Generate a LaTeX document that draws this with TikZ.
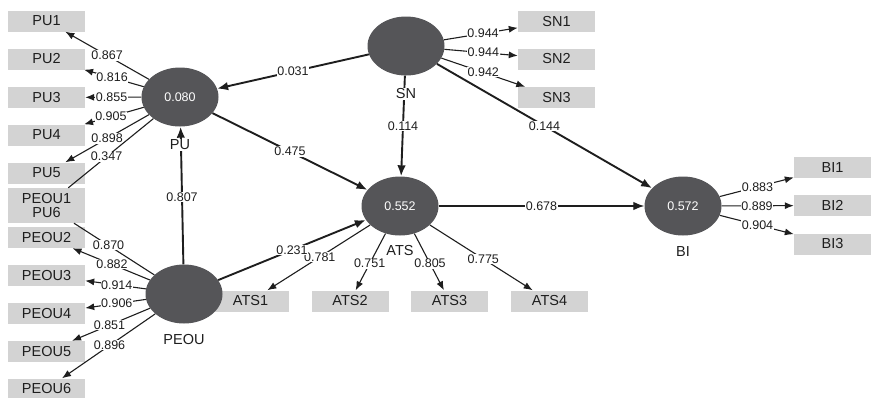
\documentclass[tikz,border=0pt]{standalone}
\usepackage{fontspec}
\setmainfont{Liberation Sans}
\usetikzlibrary{arrows.meta,shapes.geometric}
\definecolor{lv}{RGB}{85,85,88}
\definecolor{mv}{RGB}{211,211,211}
\definecolor{ink}{RGB}{30,30,30}
\tikzset{
 lvar/.style={ellipse, fill=lv, minimum width=77pt, minimum height=59pt, inner sep=0pt, text=white, font=\fontsize{12.5}{14}\selectfont},
 ind/.style={rectangle, fill=mv, minimum width=77pt, minimum height=21pt, inner sep=0pt, font=\fontsize{14.5}{16}\selectfont, text=ink},
 load/.style={draw=ink, line width=1.1pt, -{Latex[length=9pt,width=7pt]}},
 loadline/.style={draw=ink, line width=1.1pt},
 pathc/.style={draw=ink, line width=1.9pt, -{Latex[length=11pt,width=8.5pt]}},
 coef/.style={fill=white, inner sep=0.6pt, font=\fontsize{12.5}{14}\selectfont, text=ink},
 lvname/.style={fill=white, inner sep=1pt, font=\fontsize{14.5}{16}\selectfont, text=ink},
}
\begin{document}
\begin{tikzpicture}[x=1pt,y=-1pt]
\useasboundingbox (0,0) rectangle (873,397);
% indicators
\node[ind] (pu1) at (46.5,21) {PU1};
\node[ind] (pu2) at (46.5,59) {PU2};
\node[ind] (pu3) at (46.5,97.5) {PU3};
\node[ind] (pu4) at (46.5,135) {PU4};
\node[ind] (pu5) at (46.5,173) {PU5};
\node[ind, minimum height=35pt, align=center, font=\fontsize{14.5}{13.5}\selectfont] (pu6) at (46.5,205.5) {PEOU1\\PU6};
\node[ind] (peou2) at (46.5,237.5) {PEOU2};
\node[ind] (peou3) at (46.5,275.5) {PEOU3};
\node[ind] (peou4) at (46.5,313.5) {PEOU4};
\node[ind] (peou5) at (46.5,351.5) {PEOU5};
\node[ind] (peou6) at (46.5,389) {PEOU6};
\node[ind] (sn1) at (556.5,21.5) {SN1};
\node[ind] (sn2) at (556.5,59) {SN2};
\node[ind] (sn3) at (556.5,97.5) {SN3};
\node[ind] (ats1) at (250.5,301) {ATS1};
\node[ind] (ats2) at (350,301) {ATS2};
\node[ind] (ats3) at (449.5,301) {ATS3};
\node[ind] (ats4) at (549.5,301) {ATS4};
\node[ind] (bi1) at (832.5,167.5) {BI1};
\node[ind] (bi2) at (832.5,205.5) {BI2};
\node[ind] (bi3) at (832.5,244) {BI3};
% latent variables
\node[lvar] (pu) at (180,97) {0.080};
\node[lvar] (peou) at (184,294) {};
\node[lvar] (sn) at (406,46) {};
\node[lvar] (ats) at (400,206) {0.552};
\node[lvar] (bi) at (683,206) {0.572};
% PU loadings
\draw[load] (pu) -- node[coef,pos=0.5]{0.867} (pu1);
\draw[load] (pu) -- node[coef,pos=0.53]{0.816} (pu2);
\draw[load] (pu) -- node[coef,pos=0.53]{0.855} (pu3);
\draw[load] (pu) -- node[coef,pos=0.55]{0.905} (pu4);
\draw[load] (pu) -- node[coef,pos=0.5]{0.898} (pu5);
\draw[loadline] (pu) -- node[coef,pos=0.55]{0.347} (pu6);
% PEOU loadings
\draw[loadline] (peou) -- node[coef,pos=0.57]{0.870} (pu6);
\draw[load] (peou) -- node[coef,pos=0.49]{0.882} (peou2);
\draw[load] (peou) -- node[coef,pos=0.48]{0.914} (peou3);
\draw[load] (peou) -- node[coef,pos=0.48]{0.906} (peou4);
\draw[load] (peou) -- node[coef,pos=0.52]{0.851} (peou5);
\draw[load] (peou) -- node[coef,pos=0.49]{0.896} (peou6);
% SN loadings
\draw[load] (sn) -- node[coef,pos=0.53]{0.944} (sn1);
\draw[load] (sn) -- node[coef,pos=0.53]{0.944} (sn2);
\draw[load] (sn) -- node[coef,pos=0.5]{0.942} (sn3);
% ATS loadings
\draw[load] (ats) -- node[coef,pos=0.49]{0.781} (ats1);
\draw[load] (ats) -- node[coef,pos=0.53]{0.751} (ats2);
\draw[load] (ats) -- node[coef,pos=0.53]{0.805} (ats3);
\draw[load] (ats) -- node[coef,pos=0.52]{0.775} (ats4);
% BI loadings
\draw[load] (bi) -- node[coef,pos=0.51]{0.883} (bi1);
\draw[load] (bi) -- node[coef,pos=0.49]{0.889} (bi2);
\draw[load] (bi) -- node[coef,pos=0.51]{0.904} (bi3);
% structural paths
\draw[pathc] (sn) -- node[coef,pos=0.5]{0.031} (pu);
\draw[pathc] (sn) -- node[coef,pos=0.5]{0.114} (ats);
\draw[pathc] (sn) -- node[coef,pos=0.5]{0.144} (bi);
\draw[pathc] (pu) -- node[coef,pos=0.5]{0.475} (ats);
\draw[pathc] (peou) -- node[coef,pos=0.49]{0.807} (pu);
\draw[pathc] (peou) -- node[coef,pos=0.5]{0.231} (ats);
\draw[pathc, line width=1.3pt] (ats) -- node[coef,pos=0.5]{0.678} (bi);
% latent variable names
\node[lvname] (puname) at (180,145) {PU};
\node[lvname] (snname) at (406,94) {SN};
\node[lvname] (atsname) at (400,251) {ATS};
\node[lvname] (peouname) at (184,340) {PEOU};
\node[lvname] (biname) at (683,252) {BI};
\end{tikzpicture}
\end{document}
